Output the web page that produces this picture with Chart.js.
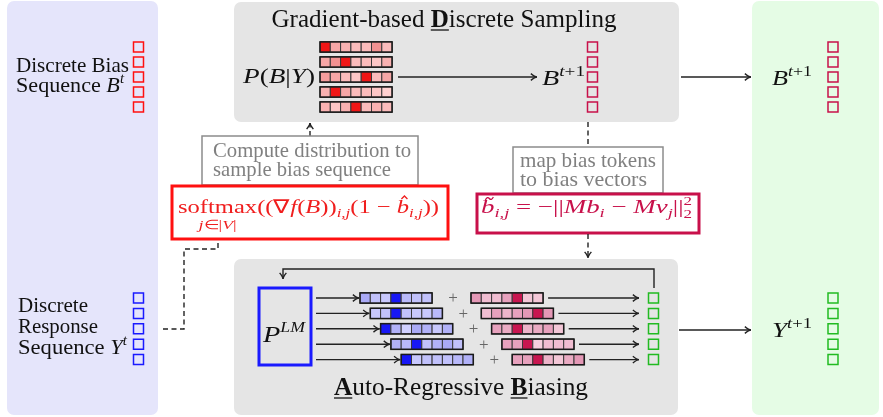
<!DOCTYPE html>
<html lang="en">
<head>
<meta charset="UTF-8">
<title>Gradient-based Discrete Sampling / Auto-Regressive Biasing</title>
<script src="https://cdn.jsdelivr.net/npm/chart.js"></script>
<style>
  html, body { margin: 0; padding: 0; background: #fff; }
  canvas { display: block; }
</style>
</head>
<body>
<canvas id="diagram" width="883" height="417"></canvas>
<script>
// 5 token positions per sequence, vocabulary of 7 tokens
const tokenSlots = [0, 1, 2, 3, 4];
const vocab = [0, 1, 2, 3, 4, 5, 6];

// P(B|Y): sampling distribution, one row per bias token
const samplingDist = [
  [1.00, 0.40, 0.35, 0.30, 0.30, 0.50, 0.30],
  [0.40, 0.50, 1.00, 0.30, 0.30, 0.25, 0.35],
  [0.45, 0.40, 0.30, 0.25, 1.00, 0.30, 0.40],
  [0.35, 1.00, 0.40, 0.30, 0.30, 0.25, 0.20],
  [0.35, 0.25, 0.35, 1.00, 0.30, 0.35, 0.30]
];
// P^LM next-token distribution per step
const lmDist = [
  [0.45, 0.30, 0.25, 1.00, 0.35, 0.30, 0.30],
  [0.25, 0.30, 1.00, 0.30, 0.25, 0.25, 0.35],
  [1.00, 0.40, 0.20, 0.45, 0.40, 0.25, 0.40],
  [0.40, 0.35, 1.00, 0.30, 0.40, 0.45, 0.30],
  [1.00, 0.25, 0.30, 0.30, 0.30, 0.35, 0.40]
];
// bias vectors b~ per step
const biasDist = [
  [0.50, 0.30, 0.30, 0.45, 1.00, 0.25, 0.25],
  [0.30, 0.45, 0.35, 0.45, 0.50, 1.00, 0.55],
  [0.45, 0.40, 1.00, 0.35, 0.40, 0.45, 0.25],
  [0.45, 0.45, 1.00, 0.20, 0.30, 0.30, 0.30],
  [0.45, 0.45, 1.00, 0.35, 0.25, 0.40, 0.50]
];

// ---- layout (canvas units) ----
const CELL = 10.3;
const topRow = i => 47 + 15 * i;
const botRow = i => 298 + 15.4 * i;
const gridX0 = () => 320;
const lmX0 = i => 360 + CELL * i;
const biasX0 = i => 471 + CELL * i;

const RED = '#ff1010', CRIMSON = '#c8104a', BLUE = '#1a1aff', GREEN = '#22bb22';

function mix(a, b, t) {
  return 'rgb(' + a.map((v, k) => Math.round(v + (b[k] - v) * t)).join(',') + ')';
}
function shade(v, light, mid, dark) {
  if (v >= 0.9) return 'rgb(' + dark.join(',') + ')';
  const t = Math.min(1, Math.max(0, (v - 0.2) / 0.3));
  return mix(light, mid, t);
}
const redPal = [[255, 208, 208], [242, 145, 145], [240, 22, 22]];
const bluePal = [[208, 208, 255], [162, 162, 244], [24, 24, 245]];
const pinkPal = [[246, 208, 222], [228, 152, 182], [200, 22, 80]];

function seqSet(cx, rowY, color) {
  return {
    data: tokenSlots.map(i => ({ x: cx, y: rowY(i) })),
    showLine: false, pointStyle: 'rect', pointRadius: 7.07,
    pointBorderColor: color, pointBorderWidth: 1.5,
    pointBackgroundColor: 'rgba(0,0,0,0)'
  };
}
function gridSet(dist, x0, rowY, pal) {
  const data = [], colors = [];
  tokenSlots.forEach(i => vocab.forEach(j => {
    data.push({ x: x0(i) + CELL * (j + 0.5), y: rowY(i) });
    colors.push(shade(dist[i][j], pal[0], pal[1], pal[2]));
  }));
  return {
    data, showLine: false, pointStyle: 'rect', pointRadius: CELL / Math.SQRT2,
    pointBackgroundColor: colors, pointBorderColor: '#3a3a3a', pointBorderWidth: 1
  };
}

const R = n => n + 'px "Liberation Serif"';
const I = n => 'italic ' + n + 'px "Liberation Serif"';
const B = n => 'bold ' + n + 'px "Liberation Serif"';

function rich(ctx, x, y, parts, opts) {
  opts = opts || {};
  ctx.save();
  let w = 0;
  parts.forEach(p => { ctx.font = p.f; p.w = ctx.measureText(p.t).width; if (!p.stay) w += p.w; });
  const sx = opts.width ? opts.width / w : 1;
  const startX = opts.align === 'center' ? x - (w * sx) / 2 : x;
  ctx.translate(startX, y);
  ctx.scale(sx, 1);
  ctx.fillStyle = opts.color || '#111';
  ctx.textAlign = 'left';
  ctx.textBaseline = 'alphabetic';
  let cx = 0;
  parts.forEach(p => {
    ctx.font = p.f;
    ctx.fillText(p.t, cx, p.dy || 0);
    p.x = startX + cx * sx; p.sw = p.w * sx;
    if (!p.stay) cx += p.w;
  });
  ctx.restore();
  ctx.save();
  ctx.strokeStyle = opts.color || '#111';
  ctx.lineWidth = 1.3;
  parts.forEach(p => {
    if (p.u) { ctx.beginPath(); ctx.moveTo(p.x, y + 3); ctx.lineTo(p.x + p.sw, y + 3); ctx.stroke(); }
    if (p.deco === 'hat') {
      const c = p.x + p.sw * 0.62;
      ctx.beginPath(); ctx.moveTo(c - 3, y - 14); ctx.lineTo(c, y - 17); ctx.lineTo(c + 3, y - 14); ctx.stroke();
    }
    if (p.deco === 'tilde') {
      const c = p.x + p.sw * 0.62;
      ctx.beginPath(); ctx.moveTo(c - 4, y - 13);
      ctx.quadraticCurveTo(c - 2, y - 17, c, y - 14.5);
      ctx.quadraticCurveTo(c + 2, y - 12, c + 4, y - 16); ctx.stroke();
    }
  });
  ctx.restore();
  return parts;
}

function path(ctx, pts, head, dashed) {
  ctx.save();
  ctx.strokeStyle = '#222';
  ctx.lineWidth = 1.4;
  if (dashed) ctx.setLineDash([5, 3.5]);
  ctx.beginPath();
  pts.forEach((p, k) => k ? ctx.lineTo(p[0], p[1]) : ctx.moveTo(p[0], p[1]));
  ctx.stroke();
  if (head) {
    ctx.setLineDash([]);
    const a = pts[pts.length - 1], b = pts[pts.length - 2];
    const ang = Math.atan2(a[1] - b[1], a[0] - b[0]);
    ctx.beginPath();
    ctx.moveTo(a[0] - 7 * Math.cos(ang - 0.5), a[1] - 7 * Math.sin(ang - 0.5));
    ctx.quadraticCurveTo(a[0] - 2 * Math.cos(ang), a[1] - 2 * Math.sin(ang), a[0], a[1]);
    ctx.quadraticCurveTo(a[0] - 2 * Math.cos(ang), a[1] - 2 * Math.sin(ang),
      a[0] - 7 * Math.cos(ang + 0.5), a[1] - 7 * Math.sin(ang + 0.5));
    ctx.stroke();
  }
  ctx.restore();
}

function box(ctx, x1, y1, x2, y2, color, lw, fill) {
  ctx.save();
  if (fill) { ctx.fillStyle = fill; ctx.fillRect(x1, y1, x2 - x1, y2 - y1); }
  ctx.strokeStyle = color; ctx.lineWidth = lw;
  ctx.strokeRect(x1, y1, x2 - x1, y2 - y1);
  ctx.restore();
}

const diagramPlugin = {
  id: 'diagram',
  beforeDatasetsDraw(chart) {
    const ctx = chart.ctx, X = v => chart.scales.x.getPixelForValue(v), Y = v => chart.scales.y.getPixelForValue(v);
    const panel = (x1, y1, x2, y2, c) => {
      ctx.save(); ctx.fillStyle = c; ctx.beginPath();
      ctx.roundRect(X(x1), Y(y1), X(x2) - X(x1), Y(y2) - Y(y1), 7); ctx.fill(); ctx.restore();
    };
    panel(7, 1, 158, 415, '#e5e5fb');
    panel(752, 1, 879, 415, '#e5fce5');
    panel(234, 2, 679, 122, '#e5e5e5');
    panel(234, 259, 678, 415, '#e5e5e5');
  },
  afterDatasetsDraw(chart) {
    const ctx = chart.ctx, X = v => chart.scales.x.getPixelForValue(v), Y = v => chart.scales.y.getPixelForValue(v);

    // outlines around each distribution bar
    const outline = (x0, rowY) => tokenSlots.forEach(i => {
      box(ctx, X(x0(i)), Y(rowY(i)) - CELL / 2, X(x0(i) + CELL * vocab.length), Y(rowY(i)) + CELL / 2, '#1a1a1a', 1.5);
    });
    outline(gridX0, topRow);
    outline(lmX0, botRow);
    outline(biasX0, botRow);

    // titles
    rich(ctx, 444, 27, [{ t: 'Gradient-based ', f: R(25) }, { t: 'D', f: B(25), u: true }, { t: 'iscrete Sampling', f: R(25) }], { align: 'center', width: 345 });
    rich(ctx, 461, 395, [{ t: 'A', f: B(25), u: true }, { t: 'uto-Regressive ', f: R(25) }, { t: 'B', f: B(25), u: true }, { t: 'iasing', f: R(25) }], { align: 'center', width: 254 });

    // left panel labels
    rich(ctx, 16, 72, [{ t: 'Discrete Bias', f: R(21) }], { width: 113 });
    rich(ctx, 16, 92, [{ t: 'Sequence ', f: R(21) }, { t: 'B', f: I(21) }, { t: 't', f: I(14), dy: -9 }], { width: 108 });
    rich(ctx, 18, 312, [{ t: 'Discrete', f: R(21) }], { width: 70 });
    rich(ctx, 18, 333, [{ t: 'Response', f: R(21) }], { width: 80 });
    rich(ctx, 18, 354, [{ t: 'Sequence ', f: R(21) }, { t: 'Y', f: I(21) }, { t: 't', f: I(14), dy: -9 }], { width: 109 });

    // top panel
    rich(ctx, 243, 83, [{ t: 'P', f: I(22) }, { t: '(', f: R(22) }, { t: 'B', f: I(22) }, { t: '|', f: R(22) }, { t: 'Y', f: I(22) }, { t: ')', f: R(22) }], { width: 72 });
    path(ctx, [[398, 77], [537, 77]], true);
    const bt1 = () => [{ t: 'B', f: I(22) }, { t: 't', f: I(15), dy: -9 }, { t: '+1', f: R(15), dy: -9 }];
    rich(ctx, 542, 85, bt1(), { width: 43 });

    // right panel
    path(ctx, [[681, 77], [751, 77]], true);
    rich(ctx, 772, 85, bt1(), { width: 40 });
    path(ctx, [[679, 330], [751, 330]], true);
    rich(ctx, 772, 337, [{ t: 'Y', f: I(22) }, { t: 't', f: I(15), dy: -9 }, { t: '+1', f: R(15), dy: -9 }], { width: 40 });

    // compute distribution boxes
    path(ctx, [[310, 136], [310, 123]], true, true);
    box(ctx, 202, 136, 418, 185, '#8c8c8c', 1.5, '#fff');
    rich(ctx, 213, 157, [{ t: 'Compute distribution to', f: R(21) }], { width: 198, color: '#808080' });
    rich(ctx, 213, 176, [{ t: 'sample bias sequence', f: R(21) }], { width: 178, color: '#808080' });
    box(ctx, 172, 186, 448, 239, RED, 3, '#fff');
    const sm = rich(ctx, 178, 213, [
      { t: 'softmax', f: R(19) }, { t: '((', f: R(19) }, { t: '∇', f: R(19) }, { t: 'f', f: I(19) },
      { t: '(', f: R(19) }, { t: 'B', f: I(19) }, { t: '))', f: R(19) }, { t: 'i,j', f: I(13), dy: 4 },
      { t: '(1 − ', f: R(19) }, { t: 'b', f: I(19), deco: 'hat' }, { t: 'i,j', f: I(13), dy: 4 }, { t: '))', f: R(19) }
    ], { width: 261, color: '#f01e1e' });
    rich(ctx, sm[0].x + sm[0].sw / 2, 229, [{ t: 'j', f: I(13) }, { t: '∈|', f: R(13) }, { t: 'V', f: I(13) }, { t: '|', f: R(13) }], { align: 'center', width: 38, color: '#f01e1e' });

    // map bias tokens boxes
    path(ctx, [[588, 122], [588, 147]], false, true);
    box(ctx, 513, 147, 663, 193, '#8c8c8c', 1.5, '#fff');
    rich(ctx, 520, 167, [{ t: 'map bias tokens', f: R(21) }], { width: 136, color: '#808080' });
    rich(ctx, 520, 186, [{ t: 'to bias vectors', f: R(21) }], { width: 127, color: '#808080' });
    box(ctx, 477, 194, 699, 233, CRIMSON, 3, '#fff');
    rich(ctx, 481, 213, [
      { t: 'b', f: I(19), deco: 'tilde' }, { t: 'i,j', f: I(13), dy: 4 }, { t: ' = −||', f: R(19) },
      { t: 'Mb', f: I(19) }, { t: 'i', f: I(13), dy: 4 }, { t: ' − ', f: R(19) }, { t: 'Mv', f: I(19) },
      { t: 'j', f: I(13), dy: 4 }, { t: '||', f: R(19) }, { t: '2', f: R(12), dy: -8, stay: true }, { t: '2', f: R(12), dy: 5 }
    ], { width: 211, color: CRIMSON });
    path(ctx, [[588, 234], [588, 258]], true, true);

    // dashed link from Y^t to the softmax box
    path(ctx, [[163, 329], [184, 329], [184, 249], [218, 249], [218, 240]], false, true);

    // bottom panel
    path(ctx, [[654, 288], [654, 269], [283, 269], [283, 279]], true);
    box(ctx, 259, 288, 311, 365, BLUE, 3);
    rich(ctx, 263, 342, [{ t: 'P', f: I(24) }, { t: 'LM', f: I(15), dy: -10 }], { width: 42 });
    tokenSlots.forEach(i => {
      const y = botRow(i);
      path(ctx, [[316, y], [lmX0(i) - 1, y]], true);
      ctx.save(); ctx.fillStyle = '#666'; ctx.font = R(17); ctx.textAlign = 'center'; ctx.textBaseline = 'middle';
      ctx.fillText('+', 453 + CELL * i, y + 1); ctx.restore();
      path(ctx, [[biasX0(i) + CELL * vocab.length + 5, y], [639, y]], true);
    });
  }
};

new Chart(document.getElementById('diagram'), {
  type: 'scatter',
  data: {
    datasets: [
      seqSet(138.5, topRow, RED),
      seqSet(138.5, botRow, BLUE),
      gridSet(samplingDist, gridX0, topRow, redPal),
      seqSet(592.5, topRow, CRIMSON),
      gridSet(lmDist, lmX0, botRow, bluePal),
      gridSet(biasDist, biasX0, botRow, pinkPal),
      seqSet(653.5, botRow, GREEN),
      seqSet(833, topRow, CRIMSON),
      seqSet(833, botRow, GREEN)
    ]
  },
  options: {
    responsive: false,
    animation: false,
    events: [],
    layout: { padding: 0, autoPadding: false },
    plugins: { legend: { display: false }, tooltip: { enabled: false } },
    scales: {
      x: { type: 'linear', min: 0, max: 883, display: false },
      y: { type: 'linear', min: 0, max: 417, reverse: true, display: false }
    }
  },
  plugins: [diagramPlugin]
});
</script>
</body>
</html>
